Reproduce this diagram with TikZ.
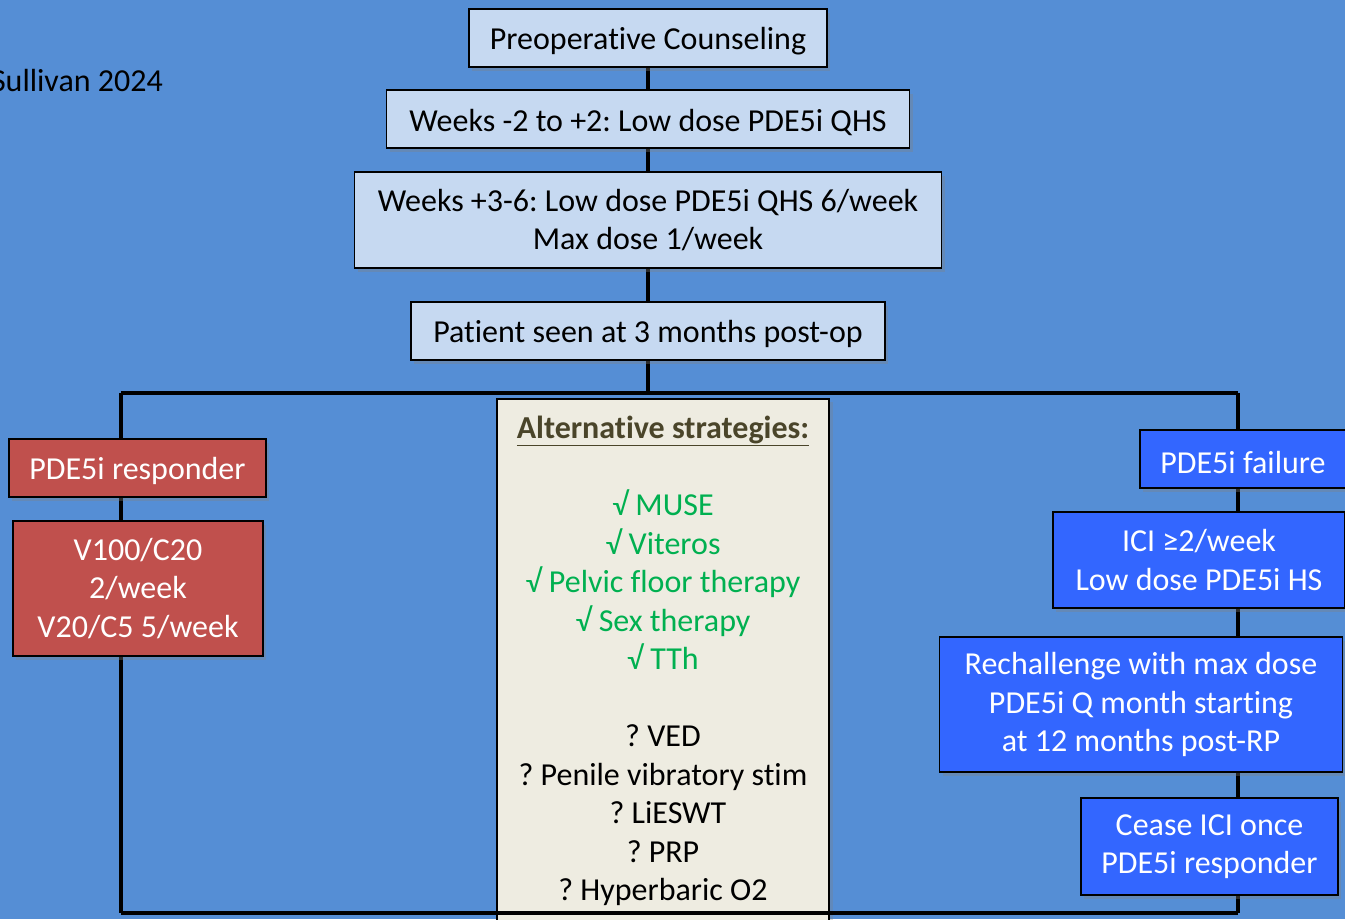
\documentclass[tikz,border=0pt]{standalone}
\usepackage{fontspec}
\setmainfont{Carlito}[Ligatures=NoCommon]
\frenchspacing
\usetikzlibrary{shadows,backgrounds}
\definecolor{bgblue}{HTML}{558ED5}
\definecolor{paleblue}{HTML}{C6D9F1}
\definecolor{redbox}{HTML}{C0504D}
\definecolor{bluebox}{HTML}{3366FF}
\definecolor{beige}{HTML}{EEECE1}
\definecolor{okgreen}{HTML}{00B050}
\definecolor{olive}{HTML}{4A452A}
\newcommand{\bigtxt}{\fontsize{32}{38.5}\selectfont}
\tikzset{
  box/.style={draw=black, line width=1.6pt, inner sep=0pt, align=center, font=\bigtxt,
    execute at begin node={\rule{0pt}{29pt}},
    drop shadow={shadow xshift=3pt, shadow yshift=-4pt, opacity=.35}},
  stepbox/.style={box, fill=paleblue, text=black},
  respbox/.style={box, fill=redbox, text=white},
  failbox/.style={box, fill=bluebox, text=white},
  link/.style={line width=4pt, black},
}

\begin{document}
\begin{tikzpicture}[x=1pt,y=-1pt]
\useasboundingbox (0,0) rectangle (1345,919);
\node[anchor=east, font=\bigtxt, inner sep=0pt] (cite) at (163,81) {Sullivan 2024};
\node[stepbox, minimum width=358pt, minimum height=58pt] (pre) at (648,38) {Preoperative Counseling};
\node[stepbox, minimum width=523pt, minimum height=58pt] (wk2) at (648,119) {Weeks -2 to +2: Low dose PDE5i QHS};
\node[stepbox, minimum width=587pt, minimum height=96pt] (wk6) at (648,220) {Weeks +3-6: Low dose PDE5i QHS 6/week\\Max dose 1/week};
\node[stepbox, minimum width=474pt, minimum height=58pt] (pat) at (648,331) {Patient seen at 3 months post-op};
\coordinate (barL) at (121,393);
\coordinate (barM) at (648,393);
\coordinate (barR) at (1238,393);
\coordinate (botL) at (121,913);
\coordinate (botR) at (1238,913);
\node[draw=black, line width=1.6pt, fill=beige, minimum width=332pt, minimum height=540pt, anchor=north, drop shadow={shadow xshift=4pt, shadow yshift=-3pt, opacity=.3}] (altbox) at (663,398) {};
\node[anchor=north, align=center, font=\bigtxt, inner sep=0pt] (alttext) at (663,416)
  {\textcolor{olive}{\bfseries\underline{Alternative strategies:}}\\[38.5pt]
   \textcolor{okgreen}{√ MUSE}\\ \textcolor{okgreen}{√ Viteros}\\ \textcolor{okgreen}{√ Pelvic floor therapy}\\
   \textcolor{okgreen}{√ Sex therapy}\\ \textcolor{okgreen}{√ TTh}\\[38.5pt]
   ? VED\\ ? Penile vibratory stim\\ \hspace{10pt}? LiESWT\\ ? PRP\\ ? Hyperbaric O2};
\node[respbox, minimum width=257pt, minimum height=58pt] (resp) at (137.5,468) {PDE5i responder};
\node[respbox, minimum width=250pt, minimum height=135pt] (dose) at (138,588.5) {V100/C20\\2/week\\V20/C5 5/week};
\node[failbox, minimum width=206pt, minimum height=58pt] (fail) at (1243,459) {PDE5i failure};
\node[failbox, minimum width=292pt, minimum height=96pt] (ici) at (1199,560) {ICI ≥2/week\\Low dose PDE5i HS};
\node[failbox, minimum width=403pt, minimum height=135pt] (rech) at (1141,704.5) {Rechallenge with max dose\\PDE5i Q month starting\\at 12 months post-RP};
\node[failbox, minimum width=257pt, minimum height=97pt] (cease) at (1209.5,846.5) {Cease ICI once\\PDE5i responder};
\draw[link] (botL) -- (botR);
\begin{scope}[on background layer]
\fill[bgblue] (0,0) rectangle (1345,919);
\draw[link] (pre) -- (wk2);
\draw[link] (wk2) -- (wk6);
\draw[link] (wk6) -- (pat);
\draw[link] (pat) -- (barM);
\draw[link] (barL) -- (barR);
\draw[link] (barL) -- (botL);
\draw[link] (barR) -- (botR);
\end{scope}
\end{tikzpicture}
\end{document}
